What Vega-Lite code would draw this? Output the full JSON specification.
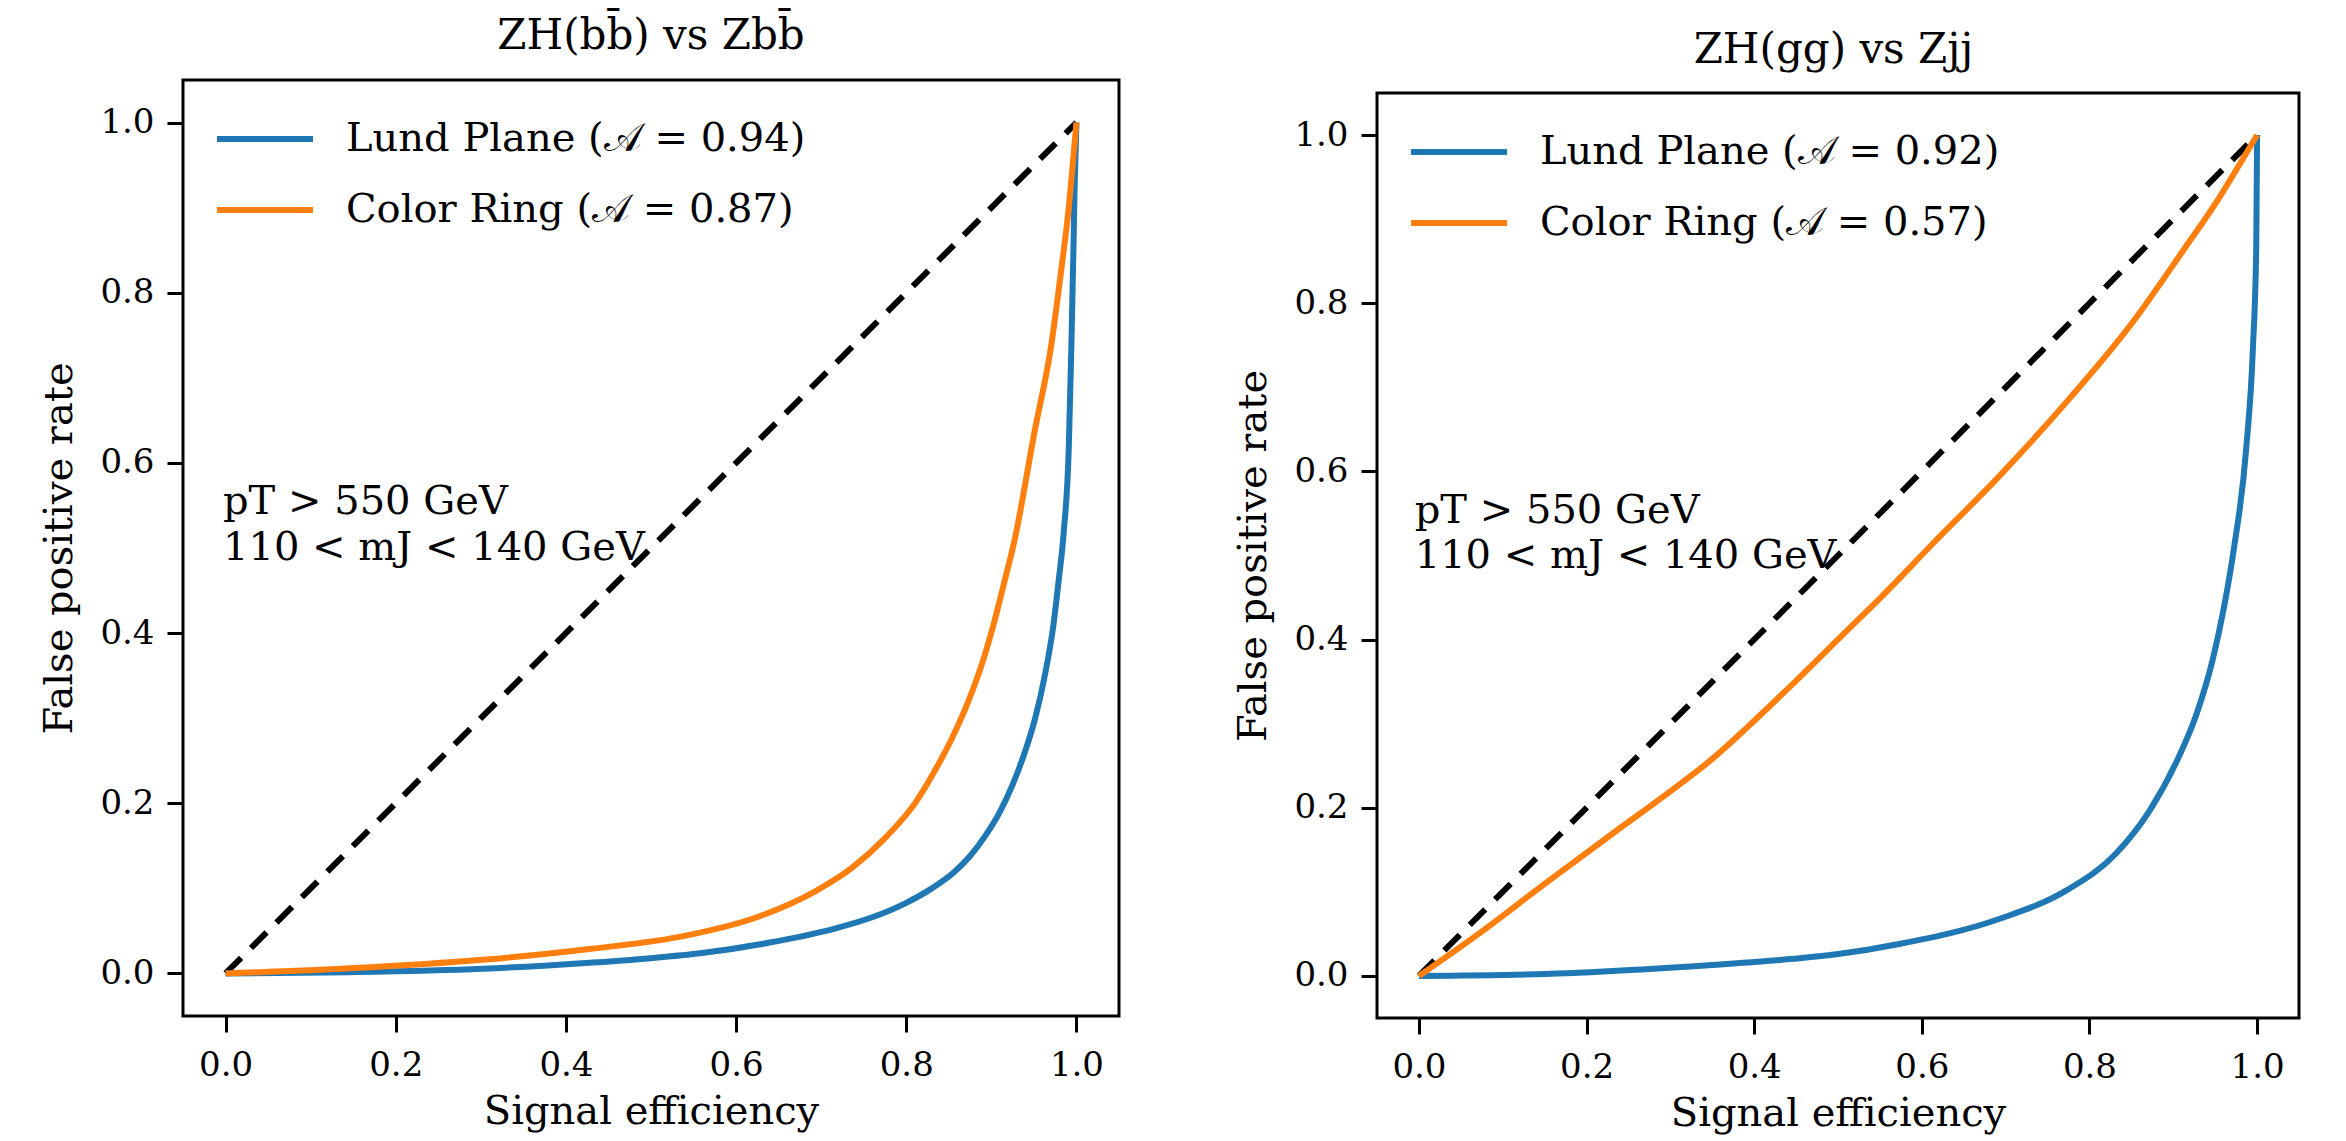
{
  "$schema": "https://vega.github.io/schema/vega-lite/v6.json",
  "background": "white",
  "padding": {"left": 38, "top": 13, "right": 10, "bottom": 5},
  "config": {
    "font": "DejaVu Serif",
    "view": {"stroke": "black", "strokeWidth": 3},
    "axis": {"domain": false, "grid": false, "tickColor": "black", "tickWidth": 3, "tickSize": 16,
      "labelFont": "DejaVu Serif", "labelFontSize": 34, "labelColor": "black", "labelPadding": 13,
      "titleFont": "DejaVu Serif", "titleFontSize": 40, "titleFontWeight": "normal", "titleColor": "black", "titlePadding": 20},
    "axisX": {"labelPadding": 16, "titlePadding": 9},
    "title": {"font": "DejaVu Serif", "fontSize": 42, "fontWeight": "normal", "color": "black", "offset": 22},
    "legend": {"orient": "top-left", "symbolType": "stroke", "symbolSize": 9216, "symbolStrokeWidth": 6,
      "labelFont": "DejaVu Serif", "labelFontSize": 40, "labelColor": "black", "labelOffset": 30,
      "rowPadding": -6, "padding": 0, "offset": 8, "symbolOffset": 23, "title": null, "labelLimit": 800},
    "concat": {"spacing": 111}
  },
  "datasets": {
    "diag": [{"x": 0, "y": 0}, {"x": 1, "y": 1}],
    "spacer": [{"k": 1}],
    "left": [
      {"series": "Lund Plane (𝒜 = 0.94)", "x": 0, "y": 0},
      {"series": "Lund Plane (𝒜 = 0.94)", "x": 0.146, "y": 0.0015},
      {"series": "Lund Plane (𝒜 = 0.94)", "x": 0.302, "y": 0.0055},
      {"series": "Lund Plane (𝒜 = 0.94)", "x": 0.419, "y": 0.012},
      {"series": "Lund Plane (𝒜 = 0.94)", "x": 0.5, "y": 0.018},
      {"series": "Lund Plane (𝒜 = 0.94)", "x": 0.56, "y": 0.024},
      {"series": "Lund Plane (𝒜 = 0.94)", "x": 0.638, "y": 0.036},
      {"series": "Lund Plane (𝒜 = 0.94)", "x": 0.717, "y": 0.053},
      {"series": "Lund Plane (𝒜 = 0.94)", "x": 0.76, "y": 0.066},
      {"series": "Lund Plane (𝒜 = 0.94)", "x": 0.8, "y": 0.083},
      {"series": "Lund Plane (𝒜 = 0.94)", "x": 0.83, "y": 0.1},
      {"series": "Lund Plane (𝒜 = 0.94)", "x": 0.855, "y": 0.118},
      {"series": "Lund Plane (𝒜 = 0.94)", "x": 0.875, "y": 0.138},
      {"series": "Lund Plane (𝒜 = 0.94)", "x": 0.893, "y": 0.162},
      {"series": "Lund Plane (𝒜 = 0.94)", "x": 0.91, "y": 0.19},
      {"series": "Lund Plane (𝒜 = 0.94)", "x": 0.925, "y": 0.222},
      {"series": "Lund Plane (𝒜 = 0.94)", "x": 0.94, "y": 0.262},
      {"series": "Lund Plane (𝒜 = 0.94)", "x": 0.951, "y": 0.298},
      {"series": "Lund Plane (𝒜 = 0.94)", "x": 0.963, "y": 0.351},
      {"series": "Lund Plane (𝒜 = 0.94)", "x": 0.973, "y": 0.41},
      {"series": "Lund Plane (𝒜 = 0.94)", "x": 0.979, "y": 0.461},
      {"series": "Lund Plane (𝒜 = 0.94)", "x": 0.985, "y": 0.518},
      {"series": "Lund Plane (𝒜 = 0.94)", "x": 0.991, "y": 0.618},
      {"series": "Lund Plane (𝒜 = 0.94)", "x": 0.994, "y": 0.736},
      {"series": "Lund Plane (𝒜 = 0.94)", "x": 0.9965, "y": 0.853},
      {"series": "Lund Plane (𝒜 = 0.94)", "x": 0.998, "y": 0.932},
      {"series": "Lund Plane (𝒜 = 0.94)", "x": 1.0, "y": 1.0},
      {"series": "Color Ring (𝒜 = 0.87)", "x": 0, "y": 0},
      {"series": "Color Ring (𝒜 = 0.87)", "x": 0.146, "y": 0.006},
      {"series": "Color Ring (𝒜 = 0.87)", "x": 0.302, "y": 0.016},
      {"series": "Color Ring (𝒜 = 0.87)", "x": 0.43, "y": 0.029},
      {"series": "Color Ring (𝒜 = 0.87)", "x": 0.541, "y": 0.0445},
      {"series": "Color Ring (𝒜 = 0.87)", "x": 0.627, "y": 0.067},
      {"series": "Color Ring (𝒜 = 0.87)", "x": 0.693, "y": 0.0965},
      {"series": "Color Ring (𝒜 = 0.87)", "x": 0.736, "y": 0.124},
      {"series": "Color Ring (𝒜 = 0.87)", "x": 0.775, "y": 0.159},
      {"series": "Color Ring (𝒜 = 0.87)", "x": 0.811, "y": 0.201},
      {"series": "Color Ring (𝒜 = 0.87)", "x": 0.834, "y": 0.239},
      {"series": "Color Ring (𝒜 = 0.87)", "x": 0.854, "y": 0.277},
      {"series": "Color Ring (𝒜 = 0.87)", "x": 0.873, "y": 0.32},
      {"series": "Color Ring (𝒜 = 0.87)", "x": 0.89, "y": 0.367},
      {"series": "Color Ring (𝒜 = 0.87)", "x": 0.9026, "y": 0.41},
      {"series": "Color Ring (𝒜 = 0.87)", "x": 0.9155, "y": 0.461},
      {"series": "Color Ring (𝒜 = 0.87)", "x": 0.927, "y": 0.508},
      {"series": "Color Ring (𝒜 = 0.87)", "x": 0.951, "y": 0.638},
      {"series": "Color Ring (𝒜 = 0.87)", "x": 0.97, "y": 0.736},
      {"series": "Color Ring (𝒜 = 0.87)", "x": 0.983, "y": 0.834},
      {"series": "Color Ring (𝒜 = 0.87)", "x": 0.991, "y": 0.9},
      {"series": "Color Ring (𝒜 = 0.87)", "x": 0.996, "y": 0.955},
      {"series": "Color Ring (𝒜 = 0.87)", "x": 1.0, "y": 1.0}
    ],
    "right": [
      {"series": "Lund Plane (𝒜 = 0.92)", "x": 0, "y": 0},
      {"series": "Lund Plane (𝒜 = 0.92)", "x": 0.152, "y": 0.0024},
      {"series": "Lund Plane (𝒜 = 0.92)", "x": 0.271, "y": 0.008},
      {"series": "Lund Plane (𝒜 = 0.92)", "x": 0.391, "y": 0.016},
      {"series": "Lund Plane (𝒜 = 0.92)", "x": 0.454, "y": 0.021},
      {"series": "Lund Plane (𝒜 = 0.92)", "x": 0.5, "y": 0.026},
      {"series": "Lund Plane (𝒜 = 0.92)", "x": 0.573, "y": 0.038},
      {"series": "Lund Plane (𝒜 = 0.92)", "x": 0.693, "y": 0.068},
      {"series": "Lund Plane (𝒜 = 0.92)", "x": 0.773, "y": 0.102},
      {"series": "Lund Plane (𝒜 = 0.92)", "x": 0.832, "y": 0.146},
      {"series": "Lund Plane (𝒜 = 0.92)", "x": 0.872, "y": 0.197},
      {"series": "Lund Plane (𝒜 = 0.92)", "x": 0.904, "y": 0.255},
      {"series": "Lund Plane (𝒜 = 0.92)", "x": 0.928, "y": 0.312},
      {"series": "Lund Plane (𝒜 = 0.92)", "x": 0.947, "y": 0.376},
      {"series": "Lund Plane (𝒜 = 0.92)", "x": 0.96, "y": 0.436},
      {"series": "Lund Plane (𝒜 = 0.92)", "x": 0.972, "y": 0.506},
      {"series": "Lund Plane (𝒜 = 0.92)", "x": 0.987, "y": 0.627},
      {"series": "Lund Plane (𝒜 = 0.92)", "x": 0.995, "y": 0.746},
      {"series": "Lund Plane (𝒜 = 0.92)", "x": 0.999, "y": 0.866},
      {"series": "Lund Plane (𝒜 = 0.92)", "x": 1.0, "y": 1.0},
      {"series": "Color Ring (𝒜 = 0.57)", "x": 0, "y": 0},
      {"series": "Color Ring (𝒜 = 0.57)", "x": 0.0724, "y": 0.051},
      {"series": "Color Ring (𝒜 = 0.57)", "x": 0.152, "y": 0.111},
      {"series": "Color Ring (𝒜 = 0.57)", "x": 0.232, "y": 0.17},
      {"series": "Color Ring (𝒜 = 0.57)", "x": 0.291, "y": 0.213},
      {"series": "Color Ring (𝒜 = 0.57)", "x": 0.351, "y": 0.259},
      {"series": "Color Ring (𝒜 = 0.57)", "x": 0.391, "y": 0.295},
      {"series": "Color Ring (𝒜 = 0.57)", "x": 0.452, "y": 0.353},
      {"series": "Color Ring (𝒜 = 0.57)", "x": 0.51, "y": 0.41},
      {"series": "Color Ring (𝒜 = 0.57)", "x": 0.55, "y": 0.449},
      {"series": "Color Ring (𝒜 = 0.57)", "x": 0.613, "y": 0.514},
      {"series": "Color Ring (𝒜 = 0.57)", "x": 0.693, "y": 0.595},
      {"series": "Color Ring (𝒜 = 0.57)", "x": 0.773, "y": 0.683},
      {"series": "Color Ring (𝒜 = 0.57)", "x": 0.852, "y": 0.778},
      {"series": "Color Ring (𝒜 = 0.57)", "x": 0.912, "y": 0.863},
      {"series": "Color Ring (𝒜 = 0.57)", "x": 0.952, "y": 0.921},
      {"series": "Color Ring (𝒜 = 0.57)", "x": 0.979, "y": 0.965},
      {"series": "Color Ring (𝒜 = 0.57)", "x": 1.0, "y": 1.0}
    ],
    "notesLeft": [
      {"x": -0.003, "y": 0.54, "label": "pT > 550 GeV"},
      {"x": -0.003, "y": 0.486, "label": "110 < mJ < 140 GeV"}
    ],
    "notesRight": [
      {"x": -0.005, "y": 0.5386, "label": "pT > 550 GeV"},
      {"x": -0.005, "y": 0.4857, "label": "110 < mJ < 140 GeV"}
    ]
  },
  "resolve": {"scale": {"color": "independent"}, "legend": {"color": "independent"}},
  "hconcat": [
    {
      "width": 936, "height": 936,
      "title": {"text": "ZH(bb̄) vs Zbb̄", "offset": 22},
      "layer": [
        {
          "data": {"name": "diag"},
          "mark": {"type": "line", "color": "black", "strokeWidth": 6, "strokeDash": [22, 14]},
          "encoding": {
            "x": {"field": "x", "type": "quantitative", "scale": {"domain": [-0.05, 1.05], "nice": false, "zero": false},
              "axis": {"title": "Signal efficiency", "values": [0, 0.2, 0.4, 0.6, 0.8, 1.0], "format": ".1f"}},
            "y": {"field": "y", "type": "quantitative", "scale": {"domain": [-0.05, 1.05], "nice": false, "zero": false},
              "axis": {"title": "False positive rate", "values": [0, 0.2, 0.4, 0.6, 0.8, 1.0], "format": ".1f"}}
          }
        },
        {
          "data": {"name": "left"},
          "mark": {"type": "line", "strokeWidth": 6, "interpolate": "monotone"},
          "encoding": {
            "x": {"field": "x", "type": "quantitative"},
            "y": {"field": "y", "type": "quantitative"},
            "color": {"field": "series", "type": "nominal",
              "scale": {"domain": ["Lund Plane (𝒜 = 0.94)", "Color Ring (𝒜 = 0.87)"], "range": ["#1f77b4", "#ff7f0e"]}}
          }
        },
        {
          "data": {"name": "notesLeft"},
          "mark": {"type": "text", "align": "left", "baseline": "alphabetic", "fontSize": 40, "font": "DejaVu Serif", "color": "black"},
          "encoding": {
            "x": {"field": "x", "type": "quantitative"},
            "y": {"field": "y", "type": "quantitative"},
            "text": {"field": "label"}
          }
        }
      ]
    },
    {
      "title": {"text": "ZH(gg) vs Zjj", "offset": 8, "anchor": "middle", "dx": 67},
      "spacing": 0,
      "vconcat": [
        {
          "width": 922, "height": 11,
          "view": {"stroke": null},
          "data": {"name": "spacer"},
          "mark": {"type": "text", "opacity": 0},
          "encoding": {}
        },
        {
          "width": 922, "height": 925,
          "layer": [
            {
              "data": {"name": "diag"},
              "mark": {"type": "line", "color": "black", "strokeWidth": 6, "strokeDash": [22, 14]},
              "encoding": {
                "x": {"field": "x", "type": "quantitative", "scale": {"domain": [-0.05, 1.05], "nice": false, "zero": false},
                  "axis": {"title": "Signal efficiency", "values": [0, 0.2, 0.4, 0.6, 0.8, 1.0], "format": ".1f"}},
                "y": {"field": "y", "type": "quantitative", "scale": {"domain": [-0.05, 1.05], "nice": false, "zero": false},
                  "axis": {"title": "False positive rate", "values": [0, 0.2, 0.4, 0.6, 0.8, 1.0], "format": ".1f"}}
              }
            },
            {
              "data": {"name": "right"},
              "mark": {"type": "line", "strokeWidth": 6, "interpolate": "monotone"},
              "encoding": {
                "x": {"field": "x", "type": "quantitative"},
                "y": {"field": "y", "type": "quantitative"},
                "color": {"field": "series", "type": "nominal",
                  "scale": {"domain": ["Lund Plane (𝒜 = 0.92)", "Color Ring (𝒜 = 0.57)"], "range": ["#1f77b4", "#ff7f0e"]},
                  "legend": {"offset": 21, "symbolOffset": 10}}
              }
            },
            {
              "data": {"name": "notesRight"},
              "mark": {"type": "text", "align": "left", "baseline": "alphabetic", "fontSize": 40, "font": "DejaVu Serif", "color": "black"},
              "encoding": {
                "x": {"field": "x", "type": "quantitative"},
                "y": {"field": "y", "type": "quantitative"},
                "text": {"field": "label"}
              }
            }
          ]
        }
      ]
    }
  ]
}
